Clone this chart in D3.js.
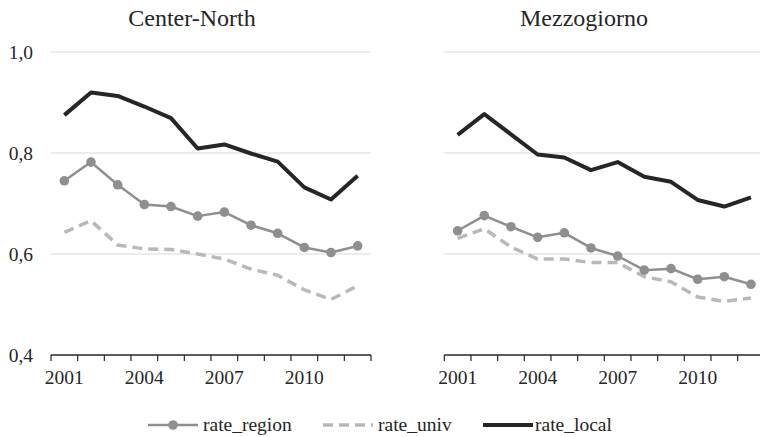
<!DOCTYPE html>
<html>
<head>
<meta charset="utf-8">
<script src="https://cdn.jsdelivr.net/npm/d3@7"></script>
<style>
body { margin: 0; background: #fff; }
</style>
</head>
<body>
<div id="drawing"></div>
<script>
"use strict"

/**** DATA ****/
let years = [2001, 2002, 2003, 2004, 2005, 2006, 2007, 2008, 2009, 2010, 2011, 2012]
let panels = ["Center-North", "Mezzogiorno"]
let seriesNames = ["rate_region", "rate_univ", "rate_local"]
let yTicks = [0.4, 0.6, 0.8, 1.0]
let xLabelYears = [2001, 2004, 2007, 2010]

let northRegion = [0.745, 0.782, 0.737, 0.698, 0.694, 0.675, 0.683, 0.657, 0.641, 0.613, 0.603, 0.616]
let northUniv   = [0.643, 0.666, 0.618, 0.610, 0.609, 0.600, 0.590, 0.570, 0.558, 0.529, 0.510, 0.537]
let northLocal  = [0.875, 0.920, 0.913, 0.892, 0.869, 0.809, 0.817, 0.799, 0.783, 0.732, 0.708, 0.755]

let southRegion = [0.646, 0.676, 0.654, 0.633, 0.642, 0.612, 0.596, 0.568, 0.571, 0.550, 0.555, 0.540]
let southUniv   = [0.631, 0.650, 0.614, 0.590, 0.590, 0.583, 0.583, 0.555, 0.545, 0.515, 0.506, 0.513]
let southLocal  = [0.836, 0.877, 0.837, 0.797, 0.791, 0.766, 0.782, 0.753, 0.743, 0.707, 0.694, 0.712]

/**** CONFIG ****/
let svgWidth = 760
let svgHeight = 437
let plotTop = 52
let plotBottom = 355
let serif = "'Liberation Serif', 'Times New Roman', 'DejaVu Serif', serif"
let textColor = "#262626"

let panelSetup = [
  {title: panels[0], x0: 51, x1: 371, titleX: 192, data: [northRegion, northUniv, northLocal]},
  {title: panels[1], x0: 444.3, x1: 764.3, titleX: 584, data: [southRegion, southUniv, southLocal]}
]

let styles = {
  rate_region: {color: "#8f8f8f", width: 2.5, dash: null},
  rate_univ: {color: "#b9b9b9", width: 3.5, dash: "10,6"},
  rate_local: {color: "#262626", width: 4, dash: null}
}

let svg = d3.select("#drawing")
  .append("svg")
  .attr("width", svgWidth)
  .attr("height", svgHeight)
  .attr("font-family", serif)

let yScale = d3.scaleLinear()
  .domain([0.4, 1.0])
  .range([plotBottom, plotTop])

let fmt = d => d3.format(".1f")(d).replace(".", ",")

/* y labels (left panel only) */
svg.selectAll("text.ylab")
  .data(yTicks)
  .join("text")
  .attr("class", "ylab")
  .attr("x", 33)
  .attr("y", d => yScale(d))
  .attr("dy", "0.35em")
  .attr("font-family", serif)
  .attr("font-size", 19.5)
  .attr("fill", textColor)
  .style("text-anchor", "end")
  .text(fmt)

panelSetup.forEach(function(p) {

  let xScale = d3.scaleBand()
    .domain(years)
    .range([p.x0, p.x1])

  let g = svg.append("g")

  /* gridlines */
  g.selectAll("line.grid")
    .data(yTicks.filter(d => d > 0.4))
    .join("line")
    .attr("x1", p.x0)
    .attr("x2", Math.min(p.x1, svgWidth))
    .attr("y1", d => yScale(d))
    .attr("y2", d => yScale(d))
    .attr("stroke", "#d9d9d9")
    .attr("stroke-width", 1)

  /* title */
  g.append("text")
    .attr("x", p.titleX)
    .attr("y", 26)
    .attr("font-family", serif)
    .attr("font-size", 24)
    .attr("fill", textColor)
    .style("text-anchor", "middle")
    .text(p.title)

  /* x axis line and boundary ticks */
  g.append("line")
    .attr("x1", p.x0)
    .attr("x2", p.x1)
    .attr("y1", plotBottom)
    .attr("y2", plotBottom)
    .attr("stroke", "#262626")
    .attr("stroke-width", 1.5)

  let bounds = years.map(y => xScale(y)).concat([p.x1])
  g.selectAll("line.tick")
    .data(bounds)
    .join("line")
    .attr("x1", d => d)
    .attr("x2", d => d)
    .attr("y1", plotBottom)
    .attr("y2", plotBottom + 6)
    .attr("stroke", "#262626")
    .attr("stroke-width", 1.2)

  /* x labels */
  g.selectAll("text.xlab")
    .data(xLabelYears)
    .join("text")
    .attr("x", d => xScale(d) + xScale.bandwidth() / 2)
    .attr("y", plotBottom + 29)
    .attr("font-family", serif)
    .attr("font-size", 19.5)
    .attr("fill", textColor)
    .style("text-anchor", "middle")
    .text(d => d)

  /* lines: draw univ, region, local order */
  let order = [1, 0, 2]
  order.forEach(function(i) {
    let st = styles[seriesNames[i]]
    let line = d3.line()
      .x((d, j) => xScale(years[j]) + xScale.bandwidth() / 2)
      .y(d => yScale(d))
    g.append("path")
      .datum(p.data[i])
      .attr("d", line)
      .attr("fill", "none")
      .attr("stroke", st.color)
      .attr("stroke-width", st.width)
      .attr("stroke-dasharray", st.dash)
      .attr("stroke-linejoin", "round")
    if (i === 0) {
      g.selectAll("circle.m" + i)
        .data(p.data[i])
        .join("circle")
        .attr("cx", (d, j) => xScale(years[j]) + xScale.bandwidth() / 2)
        .attr("cy", d => yScale(d))
        .attr("r", 4.8)
        .attr("fill", st.color)
    }
  })
})

/**** LEGEND ****/
let legendItems = [
  {name: seriesNames[0], x0: 148, x1: 198, tx: 203},
  {name: seriesNames[1], x0: 323, x1: 373, tx: 378},
  {name: seriesNames[2], x0: 483, x1: 533, tx: 535}
]
let legendY = 425

let legend = svg.append("g")
legendItems.forEach(function(it) {
  let st = styles[it.name]
  legend.append("line")
    .attr("x1", it.x0)
    .attr("x2", it.x1)
    .attr("y1", legendY)
    .attr("y2", legendY)
    .attr("stroke", st.color)
    .attr("stroke-width", st.width)
    .attr("stroke-dasharray", st.dash)
  if (it.name === "rate_region") {
    legend.append("circle")
      .attr("cx", (it.x0 + it.x1) / 2)
      .attr("cy", legendY)
      .attr("r", 4.8)
      .attr("fill", st.color)
  }
  legend.append("text")
    .attr("x", it.tx)
    .attr("y", legendY)
    .attr("dy", "0.32em")
    .attr("font-family", serif)
    .attr("font-size", 19.5)
    .attr("fill", textColor)
    .text(it.name)
})
</script>
</body>
</html>
